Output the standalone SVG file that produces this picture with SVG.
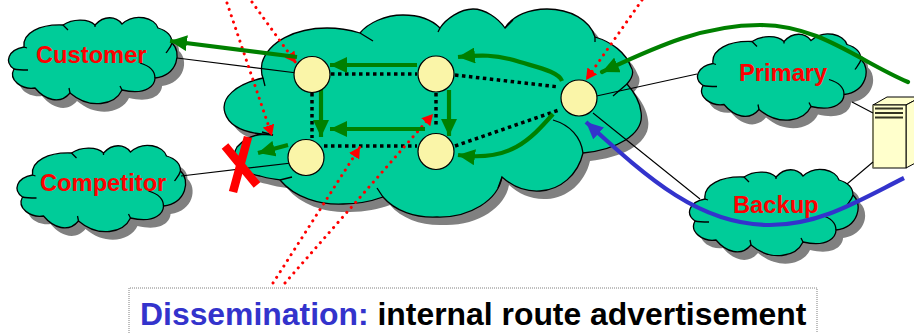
<svg xmlns="http://www.w3.org/2000/svg" width="914" height="333" viewBox="0 0 914 333">
<style>
.shadow{fill:#808080;stroke:none}
.body{fill:#00cc99;stroke:none}
.edge{fill:none;stroke:#000;stroke-width:1.3}
.router{fill:#faf5a8;stroke:#000;stroke-width:1.2}
.label{font:bold 23.7px "Liberation Sans",Arial,sans-serif;fill:#ff0000}
.thin{fill:none;stroke:#000;stroke-width:1.1}
.ibgp{fill:none;stroke:#000;stroke-width:3.5;stroke-dasharray:3.5 3.5}
.green{fill:none;stroke:#008000;stroke-width:4.2}
.blue{fill:none;stroke:#3333cc;stroke-width:4.2}
.red{fill:none;stroke:#ff0000;stroke-width:3;stroke-linecap:round;stroke-dasharray:0.1 6.6}
</style>
<defs>
<marker id="ag" markerUnits="userSpaceOnUse" markerWidth="18" markerHeight="16" refX="17" refY="8" orient="auto"><path d="M0,0L17,8L0,16z" fill="#008000"/></marker>
<marker id="ab" markerUnits="userSpaceOnUse" markerWidth="18" markerHeight="16" refX="17" refY="8" orient="auto"><path d="M0,0L17,8L0,16z" fill="#3333cc"/></marker>
<marker id="ar" markerUnits="userSpaceOnUse" markerWidth="12" markerHeight="12" refX="11" refY="6" orient="auto"><path d="M0,0L11,6L0,12z" fill="#ff0000"/></marker>
<path id="co" d="M24,47C22,33 40,24 63,25C72,19 88,18 95,25C104,15 116,16 122,24C135,12 155,18 158,28C168,31 172,36 172,43C182,52 178,75 155,78C155,84 148,96 122,90C115,105 90,110 70,93C60,105 45,100 35,88C22,90 8,80 14,69C4,62 8,50 24,47z"/>
<path id="ch" d="M63,25C65,27 67,29 68,30M95,25V27M172,43C171,47 168,50 166,53M155,78C155,71 150,66 140,63M122,90L120,86M70,93L69,88M14,69C18,70 24,70 28,70M24,47L27,48"/>
<g id="cl">
<use href="#co" class="shadow" transform="translate(7,8)"/>
<use href="#co" class="body"/>
<use href="#co" class="edge"/>
<use href="#ch" class="edge"/>
</g>
<path id="main" d="M263,78C236,84 220,98 225,113C229,126 245,134 273,135C256,132 245,138 237,147C230,158 238,172 260,176C266,178 274,179 280,180C295,198 320,205 343,204C358,204 372,201 383,197C395,211 415,218 437,217C470,218 498,200 502,177C512,186 525,192 540,191C560,190 578,175 583,153C615,150 645,135 641,112C640,103 635,93 627,84C634,76 633,70 631,67C626,53 612,42 595,37C590,20 570,9 547,9C530,9 513,15 505,28C498,18 485,9 473,9C460,9 446,19 440,28C430,18 416,15 403,15C385,15 368,23 360,33C350,30 340,28 327,28C295,28 268,42 262,63C261,70 262,76 263,78z"/>
</defs>
<g id="core">
<use href="#main" class="shadow" transform="translate(7,8)"/>
<use href="#main" class="body"/>
<use href="#main" class="edge"/>
<path class="edge" d="M360,33L373,41M440,28L438,32M505,28L513,20M595,37V42M263,78L265,86M273,135L262,132M292,177C288,178 284,179 280,180M383,197L377,188M502,177L498,188M583,153C581,137 570,125 553,120M627,84L613,96"/>
</g>
<g id="customer"><use href="#cl"/><text class="label" x="36" y="63">Customer</text></g>
<g id="competitor"><use href="#cl" transform="translate(8.5,128)"/><text class="label" x="40" y="191">Competitor</text></g>
<g id="primary"><use href="#cl" transform="translate(689,16.5)"/><text class="label" x="739" y="81">Primary</text></g>
<g id="backup"><use href="#cl" transform="translate(681,152)"/><text class="label" x="733" y="213">Backup</text></g>
<g id="server">
<path d="M873,105L887,97H921L906,105z" fill="#ffffcc" stroke="#000" stroke-width="1"/>
<path d="M906,105L921,97V160L906,168z" fill="#ffffcc" stroke="#000" stroke-width="1"/>
<rect x="873" y="105" width="33" height="63" fill="#ffffcc" stroke="#000" stroke-width="1"/>
<path d="M873,105V168" stroke="#808060" stroke-width="1.6"/>
<path d="M875,108.500H903M875,113H903M875,117.500H903" stroke="#333322" stroke-width="2"/>
</g>
<g id="connectors">
<path class="thin" d="M177,58L297,73M181,176L300,162M592,97L697,74M593,113L700,199M852,102L873,113M847,184L873,162"/>
<path class="ibgp" d="M331,74H417M312,93V138M324,146H417M436,93V125M455,75L559,87M455,146L559,110"/>
<path class="red" marker-end="url(#ar)" d="M227,3L272,136"/>
<path class="red" marker-end="url(#ar)" d="M252,2L296,63"/>
<path class="red" marker-end="url(#ar)" d="M273,283L360,147"/>
<path class="red" marker-end="url(#ar)" d="M285,283L433,114"/>
<path class="red" marker-end="url(#ar)" d="M642,0L586,80"/>
<path class="green" marker-end="url(#ag)" d="M297,57L170,41"/>
<path class="green" marker-end="url(#ag)" d="M417,65H330"/>
<path class="green" marker-end="url(#ag)" d="M321,89V137"/>
<path class="green" marker-end="url(#ag)" d="M425,129H330"/>
<path class="green" marker-end="url(#ag)" d="M449,90V136"/>
<path class="green" marker-end="url(#ag)" d="M288,145L258,153"/>
<path class="green" marker-end="url(#ag)" d="M562,81C559,72 540,68 520,62C495,54 480,55 458,57"/>
<path class="green" marker-end="url(#ag)" d="M553,114C530,140 510,162 458,155"/>
<path class="green" stroke-linecap="round" marker-end="url(#ag)" d="M908,82C860,62 820,25 760,25C700,25 650,50 602,72"/>
<path class="blue" marker-end="url(#ab)" d="M904,178C860,200 820,225 770,225C700,225 650,180 586,122"/>
<path d="M248,137L233,192M225,146L257,185" fill="none" stroke="#ff0000" stroke-width="8.500"/>
</g>
<g id="caption">
<path d="M129,333V288H817V333" fill="none" stroke="#808080" stroke-width="1" stroke-dasharray="1 1"/>
<text x="140" y="325" font-family="'Liberation Sans',Arial,sans-serif" font-weight="bold" font-size="31.900" fill="#000"><tspan fill="#3333cc">Dissemination:</tspan> internal route advertisement</text>
</g>
<g id="routers">
<circle class="router" cx="312" cy="74.500" r="18"/>
<circle class="router" cx="436" cy="74" r="18"/>
<circle class="router" cx="306" cy="157.500" r="18"/>
<circle class="router" cx="436" cy="151.500" r="18"/>
<circle class="router" cx="579" cy="98" r="18"/>
</g>
</svg>
